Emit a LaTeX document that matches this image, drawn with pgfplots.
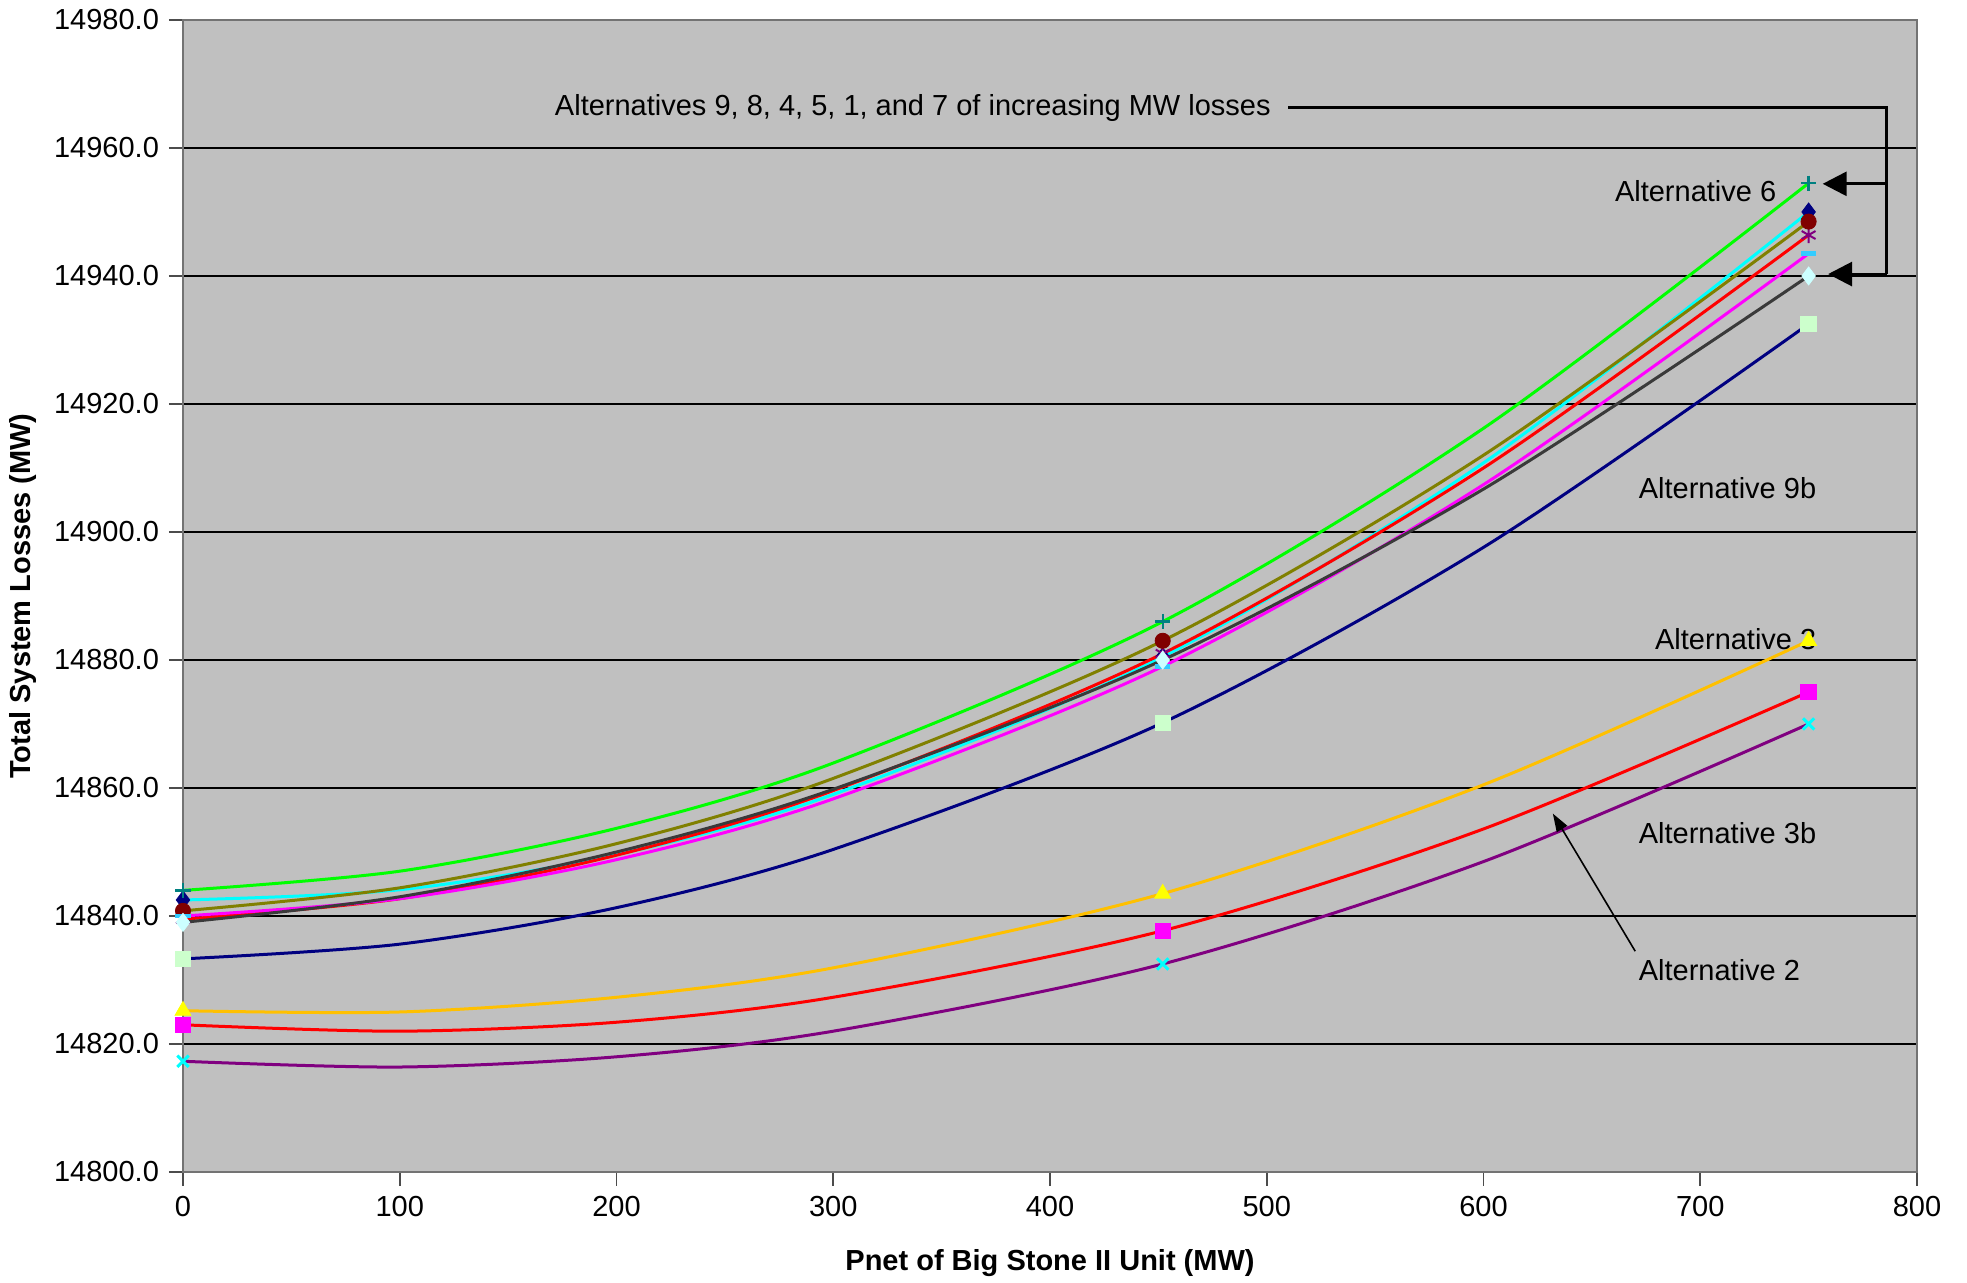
\documentclass[border=0pt]{standalone}
\usepackage{fontspec}
\setmainfont{Liberation Sans}
\usepackage{pgfplots}
\pgfplotsset{compat=1.18}
\usetikzlibrary{arrows.meta}
\definecolor{bggray}{HTML}{C0C0C0}
\definecolor{xnavy}{HTML}{000080}
\definecolor{xmag}{HTML}{FF00FF}
\definecolor{xyel}{HTML}{FFFF00}
\definecolor{xcyan}{HTML}{00FFFF}
\definecolor{xpurple}{HTML}{800080}
\definecolor{xmaroon}{HTML}{800000}
\definecolor{xteal}{HTML}{008080}
\definecolor{xsky}{HTML}{33CCFF}
\definecolor{xlcyan}{HTML}{CCFFFF}
\definecolor{xlgreen}{HTML}{CCFFCC}
\definecolor{lgreen}{HTML}{00FF00}
\definecolor{lolive}{HTML}{808000}
\definecolor{lred}{HTML}{FF0000}
\definecolor{lgray}{HTML}{3A3A3A}
\definecolor{lgold}{HTML}{FFC000}
\begin{document}
\fontsize{14.5}{17}\selectfont
\begin{tikzpicture}
\begin{axis}[
  scale only axis, width=867pt, height=576pt,
  xmin=0, xmax=800, ymin=14800, ymax=14980,
  xtick={0,100,...,800}, ytick={14800,14820,...,14980},
  scaled x ticks=false, scaled y ticks=false,
  axis background/.style={fill=bggray},
  ymajorgrids, major grid style={black, line width=0.7pt},
  tick align=outside, major tick length=7pt,
  tick pos=left,
  tick style={black!70, line width=0.8pt},
  axis line style={black!55, line width=1.2pt},
  /pgf/number format/assume math mode=true,
  yticklabel style={/pgf/number format/.cd, fixed, fixed zerofill, precision=1, 1000 sep={}},
  xticklabel style={/pgf/number format/.cd, fixed, 1000 sep={}},
  every tick label/.append style={font=\fontsize{14.5}{17}\selectfont},
  xlabel={\textbf{Pnet of Big Stone II Unit (MW)}},
  ylabel={\textbf{Total System Losses (MW)}},
  xlabel style={at={(rel axis cs:0.5,0)}, anchor=center, yshift=-45.5pt, font=\fontsize{14.5}{17}\selectfont},
  ylabel style={at={(rel axis cs:0,0.5)}, anchor=center, yshift=80pt, font=\fontsize{14.5}{17}\selectfont},
  clip=false,
]
% ---- data markers ----
\addplot[only marks, mark=diamond*, mark size=4.5pt, color=xnavy] coordinates {(0,14842.5)(452,14880.5)(750,14950.0)};
\addplot[only marks, mark=square*, mark size=3.9pt, color=xmag] coordinates {(0,14823.0)(452,14837.7)(750,14875.0)};
\addplot[only marks, mark=triangle*, mark size=4.6pt, color=xyel] coordinates {(0,14825.2)(452,14843.5)(750,14883.0)};
\addplot[only marks, mark=x, mark size=4pt, line width=1.5pt, color=xcyan] coordinates {(0,14817.3)(452,14832.5)(750,14870.0)};
\addplot[only marks, mark=asterisk, mark size=4pt, line width=1pt, color=xpurple] coordinates {(0,14839.5)(452,14881.0)(750,14946.4)};
\addplot[only marks, mark=*, mark size=3.8pt, color=xmaroon] coordinates {(0,14840.8)(452,14883.0)(750,14948.5)};
\addplot[only marks, mark=+, mark size=3.8pt, line width=1.2pt, color=xteal] coordinates {(0,14844.0)(452,14886.0)(750,14954.5)};
\addplot[only marks, mark=-, mark size=3.8pt, line width=2.2pt, color=xsky] coordinates {(0,14840.0)(452,14879.0)(750,14943.5)};
\addplot[only marks, mark=diamond*, mark size=4.5pt, color=xlcyan] coordinates {(0,14839.0)(452,14880.0)(750,14940.0)};
\addplot[only marks, mark=square*, mark size=3.9pt, color=xlgreen] coordinates {(0,14833.3)(452,14870.2)(750,14932.5)};
% ---- trend lines ----
\addplot[smooth, no marks, line width=1.5pt, color=lgreen] coordinates {(0,14844.0)(100,14847.0)(200,14853.7)(300,14863.9)(452,14886.0)(600,14916.2)(750,14954.5)};
\addplot[smooth, no marks, line width=1.5pt, color=xcyan] coordinates {(0,14842.5)(100,14844.1)(200,14849.6)(300,14859.0)(452,14880.5)(600,14910.8)(750,14950.0)};
\addplot[smooth, no marks, line width=1.5pt, color=lolive] coordinates {(0,14840.8)(100,14844.4)(200,14851.3)(300,14861.5)(452,14883.0)(600,14912.0)(750,14948.5)};
\addplot[smooth, no marks, line width=1.5pt, color=lred] coordinates {(0,14839.5)(100,14842.7)(200,14849.5)(300,14859.6)(452,14881.0)(600,14910.0)(750,14946.4)};
\addplot[smooth, no marks, line width=1.5pt, color=xmag] coordinates {(0,14840.0)(100,14842.7)(200,14848.8)(300,14858.3)(452,14879.0)(600,14907.4)(750,14943.5)};
\addplot[smooth, no marks, line width=1.5pt, color=lgray] coordinates {(0,14839.0)(100,14843.0)(200,14850.0)(300,14859.8)(452,14880.0)(600,14906.7)(750,14940.0)};
\addplot[smooth, no marks, line width=1.5pt, color=xnavy] coordinates {(0,14833.3)(100,14835.6)(200,14841.3)(300,14850.4)(452,14870.2)(600,14897.6)(750,14932.5)};
\addplot[smooth, no marks, line width=1.5pt, color=lgold] coordinates {(0,14825.2)(100,14825.0)(200,14827.3)(300,14831.9)(452,14843.5)(600,14860.5)(750,14883.0)};
\addplot[smooth, no marks, line width=1.5pt, color=lred] coordinates {(0,14823.0)(100,14822.0)(200,14823.4)(300,14827.3)(452,14837.7)(600,14853.6)(750,14875.0)};
\addplot[smooth, no marks, line width=1.5pt, color=xpurple] coordinates {(0,14817.3)(100,14816.4)(200,14818.0)(300,14822.0)(452,14832.5)(600,14848.5)(750,14870.0)};
% ---- annotations ----
\node[anchor=east, inner sep=0pt] at (axis cs:502,14966.3) {Alternatives 9, 8, 4, 5, 1, and 7 of increasing MW losses};
\draw[black, line width=1.5pt] (axis cs:510,14966.3) -- (axis cs:786,14966.3) -- (axis cs:786,14940.3);
\draw[black, line width=1.5pt, -{Triangle[length=12pt,width=12pt]}] (axis cs:786,14940.3) -- (axis cs:759,14940.3);
\draw[black, line width=1.5pt, -{Triangle[length=12pt,width=12pt]}] (axis cs:786,14954.4) -- (axis cs:756.5,14954.4);
\node[anchor=west, inner sep=0pt] at (axis cs:660.5,14953.3) {Alternative 6};
\node[anchor=west, inner sep=0pt] at (axis cs:671.5,14906.9) {Alternative 9b};
\node[anchor=west, inner sep=0pt] at (axis cs:679,14883.3) {Alternative 3};
\node[anchor=west, inner sep=0pt] at (axis cs:671.5,14852.9) {Alternative 3b};
\node[anchor=west, inner sep=0pt] at (axis cs:671.5,14831.6) {Alternative 2};
\draw[black, line width=0.8pt, -{Triangle[length=9pt,width=6pt]}] (axis cs:670,14834.5) -- (axis cs:632,14856);
\end{axis}
\pgfresetboundingbox
\path (-91.5pt,-55.5pt) rectangle (892pt,586pt);
\end{tikzpicture}
\end{document}
